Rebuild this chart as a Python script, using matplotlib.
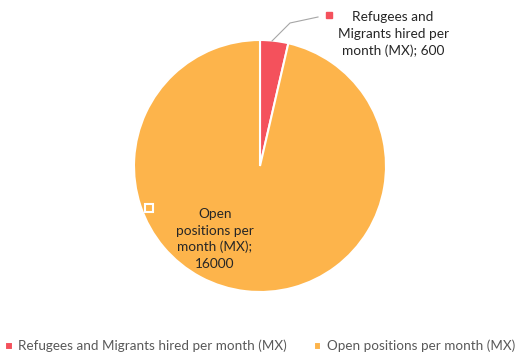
import matplotlib.pyplot as plt

labels = ["Refugees and Migrants hired per month (MX)", "Open positions per month (MX)"]
values = [600, 16000]
colors = ["#F4515C", "#FDB44B"]

plt.rcParams["font.family"] = ["Lato", "DejaVu Sans"]

fig = plt.figure(figsize=(5.2, 3.54), dpi=100)
ax = fig.add_axes([0, 0, 1, 1])

# pie in pixel-like coordinates (y up)
wedges, _ = ax.pie(values, colors=colors, startangle=90, counterclock=False,
                   center=(260, 188), radius=126, frame=True,
                   wedgeprops=dict(edgecolor="white", linewidth=1.5))
ax.set_xlim(0, 520)
ax.set_ylim(0, 354)
ax.axis("off")

# data labels
ax.plot([272, 290, 318], [313, 331, 337], color="#A6A6A6", lw=0.8)
ax.plot(329, 339, marker="s", ms=4.5, color=colors[0], mec=colors[0])
ax.text(393, 320, "Refugees and\nMigrants hired per\nmonth (MX); 600",
        ha="center", va="center", fontsize=9.8, color="#262626", linespacing=1.42)

ax.plot(149, 146, marker="s", ms=6, color=colors[1], mec="white", mew=1.5)
ax.text(215, 115, "Open\npositions per\nmonth (MX);\n16000",
        ha="center", va="center", fontsize=9.8, color="#262626", linespacing=1.42)

fig.legend(wedges, labels, loc="lower center", bbox_to_anchor=(0.5, -0.03), ncol=2,
           frameon=False, fontsize=9.7, handlelength=0.55, handleheight=0.55,
           handletextpad=0.4, columnspacing=2.0, labelcolor="#595959")

fig.savefig("out.png", dpi=100)
